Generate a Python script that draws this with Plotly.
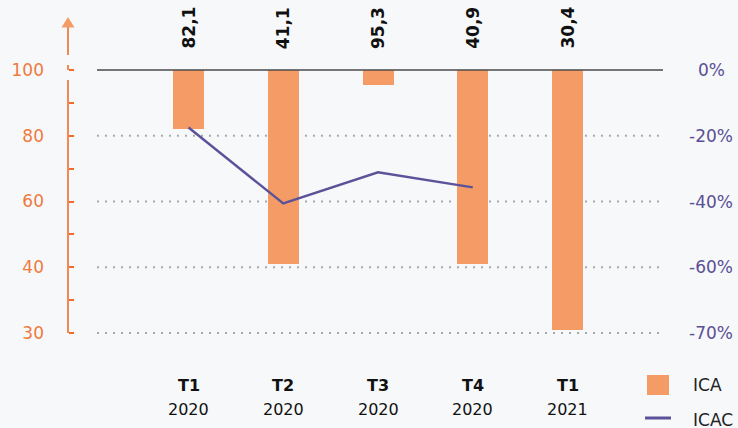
import plotly.graph_objects as go

# ---------------- data ----------------
categories_q = ["T1", "T2", "T3", "T4", "T1"]
categories_y = ["2020", "2020", "2020", "2020", "2021"]
ica_values = [82.1, 41.1, 95.3, 40.9, 30.4]
icac_values = [-17.5, -40.6, -31.1, -35.7]          # percent
left_ticks = [100, 80, 60, 40, 30]
left_minor = [90, 70, 50, 35]
right_ticks = [0, -20, -40, -60, -70]

# ---------------- style ----------------
W, H = 738, 428
BG = "#f7f8fa"
ORANGE_BAR = "#f59b66"
ORANGE_AX = "#f26b2c"
ORANGE_TXT = "#ef7a3d"
PURPLE = "#5b5399"
PURPLE_TXT = "#5a4f95"
FONT = "DejaVu Sans"


def pos(v):
    """Broken axis: linear above 40, compressed x2 below 40."""
    return v if v >= 40 else 40 - (40 - v) * 2


def px(x):
    return x / W


def py(y):
    return 1 - y / H


# pixel mapping of y: value 100 at px 70, value 20 at px 333
k = (333 - 70) / 80.0
ymax = 100 + 70 / k
ymin = 20 - (H - 333) / k

xs = list(range(len(ica_values)))

fig = go.Figure()

fig.add_trace(go.Bar(
    x=xs, y=[pos(v) - 100 for v in ica_values], base=100,
    width=0.327, marker=dict(color=ORANGE_BAR, line=dict(width=0)),
    showlegend=False, hoverinfo="skip",
))

fig.add_trace(go.Scatter(
    x=xs[:len(icac_values)], y=[pos(100 + p) - 100 for p in icac_values],
    yaxis="y2", mode="lines", line=dict(color=PURPLE, width=2.4),
    showlegend=False, hoverinfo="skip",
))

shapes = []
annotations = []

# dotted gridlines (below data)
for t in left_ticks[1:]:
    shapes.append(dict(type="line", xref="x domain", yref="y", x0=0, x1=1,
                       y0=pos(t), y1=pos(t), layer="below",
                       line=dict(color="#a9a9ad", width=2, dash="2px,6px")))
# baseline at 100
shapes.append(dict(type="line", xref="x domain", yref="y", x0=0, x1=1,
                   y0=100, y1=100, layer="above",
                   line=dict(color="#4a4a4d", width=1.6)))

# left orange axis line with arrow
ax_x = px(68)
def pv(p):  # pixel y -> value on y axis
    return 100 + (70 - p) / k
for a, b in [(333, 80), (70, 65), (55, 27)]:
    shapes.append(dict(type="line", xref="paper", yref="y", x0=ax_x, x1=ax_x,
                       y0=pv(a), y1=pv(b), line=dict(color=ORANGE_AX, width=1.6)))
shapes.append(dict(type="path", xref="paper", yref="y",
                   path=f"M {px(61.5)},{pv(27.5)} L {px(68)},{pv(17)} L {px(74.5)},{pv(27.5)} Z",
                   fillcolor=ORANGE_BAR, line=dict(width=0)))

# value labels above bars
for i, v in enumerate(ica_values):
    annotations.append(dict(x=i, y=100, xref="x", yref="y", yshift=19,
                            text=f"<b>{v:.1f}</b>".replace(".", ","),
                            textangle=-90, showarrow=False,
                            xanchor="center", yanchor="bottom",
                            font=dict(family=FONT, size=17, color="#111111")))

# category labels (two rows)
for i, (q, yr) in enumerate(zip(categories_q, categories_y)):
    annotations.append(dict(x=i, y=py(385), xref="x", yref="paper", text=f"<b>{q}</b>",
                            showarrow=False, xanchor="center", yanchor="middle",
                            font=dict(family=FONT, size=16, color="#111111")))
    annotations.append(dict(x=i, y=py(409), xref="x", yref="paper", text=yr,
                            showarrow=False, xanchor="center", yanchor="middle",
                            font=dict(family=FONT, size=16, color="#111111")))

# right axis labels
for t in right_ticks:
    annotations.append(dict(x=px(711), y=pos(100 + t) - 100, xref="paper", yref="y2",
                            text=f"{t}%", showarrow=False, xanchor="center",
                            yanchor="middle",
                            font=dict(family=FONT, size=17, color=PURPLE_TXT)))

# legend
shapes.append(dict(type="rect", xref="paper", yref="paper",
                   x0=px(647), x1=px(669), y0=py(395), y1=py(375),
                   fillcolor=ORANGE_BAR, line=dict(width=0)))
shapes.append(dict(type="line", xref="paper", yref="paper",
                   x0=px(645), x1=px(671), y0=py(418), y1=py(418),
                   line=dict(color=PURPLE, width=3)))
annotations.append(dict(x=px(691), y=py(385), xref="paper", yref="paper",
                        text="ICA", showarrow=False, xanchor="left", yanchor="middle",
                        font=dict(family=FONT, size=17, color="#222222")))
annotations.append(dict(x=px(691), y=py(420), xref="paper", yref="paper",
                        text="ICAC", showarrow=False, xanchor="left", yanchor="middle",
                        font=dict(family=FONT, size=17, color="#222222")))

fig.update_layout(
    width=W, height=H,
    margin=dict(l=0, r=0, t=0, b=0, autoexpand=False),
    paper_bgcolor=BG, plot_bgcolor=BG,
    font=dict(family=FONT),
    shapes=shapes, annotations=annotations,
    bargap=0,
    xaxis=dict(
        domain=[px(97), px(663)], range=[-0.966, 5.008],
        showticklabels=False,
        showgrid=False, zeroline=False, showline=False, ticks="",
        automargin=False, fixedrange=True,
    ),
    yaxis=dict(
        domain=[0, 1], range=[ymin, ymax],
        tickvals=[pos(t) for t in left_ticks], ticktext=[str(t) for t in left_ticks],
        tickfont=dict(family=FONT, size=17, color=ORANGE_TXT),
        ticks="inside", ticklen=5, tickwidth=1.5, tickcolor=ORANGE_AX,
        minor=dict(tickvals=[pos(t) for t in left_minor], ticks="inside",
                   ticklen=5, tickwidth=1.5, tickcolor=ORANGE_AX, showgrid=False),
        ticklabelstandoff=24,
        showgrid=False, zeroline=False, showline=False,
        anchor="free", position=ax_x, automargin=False, fixedrange=True,
    ),
    yaxis2=dict(
        overlaying="y", side="right", range=[ymin - 100, ymax - 100],
        showticklabels=False, showgrid=False, zeroline=False, showline=False,
        ticks="", automargin=False, fixedrange=True,
    ),
)

fig.write_html(
    "out.html",
    config={"displayModeBar": False},
    post_script="document.body.style.margin='0';document.body.style.padding='0';",
)
